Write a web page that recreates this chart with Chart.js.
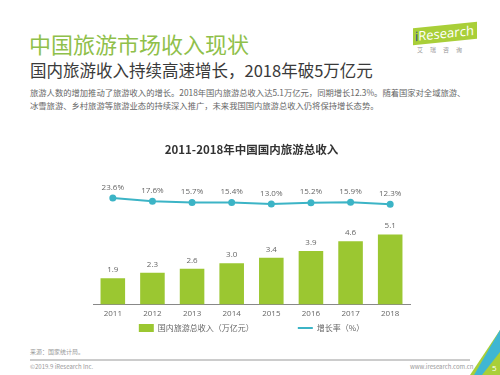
<!DOCTYPE html>
<html>
<head>
<meta charset="utf-8">
<script src="https://cdn.jsdelivr.net/npm/chart.js@4"></script>
<style>
  html, body { margin: 0; padding: 0; background: #fff; }
  body { width: 500px; height: 375px; position: relative; overflow: hidden;
         font-family: "Noto Sans CJK SC", "Noto Sans", sans-serif; }
  .abs { position: absolute; white-space: nowrap; }
  #title { left: 29px; top: 27px; font-size: 22px; color: #8fc04a; }
  #subtitle { left: 30px; top: 58px; font-size: 16.5px; color: #3a3a3a; }
  #body1, #body2 { left: 30px; font-size: 8.3px; color: #666; }
  #body1 { top: 86px; }
  #body2 { top: 99px; }
  #logo { left: 413px; top: 25px; width: 64px; }
  #logo .bar { background: #a9cf38; color: #fff; font-family: "Open Sans", sans-serif;
               font-size: 13px; padding: 0 3px 0 2px; line-height: 17px;
               transform: skewY(-6deg); }
  #logo .bar b { color: #2b4a8a; font-weight: normal; }
  #logo .cn { font-size: 6px; color: #999; letter-spacing: 7px; margin: 3px 0 0 4px; }
  #source { left: 30px; top: 347px; font-size: 6px; color: #999; }
  #rule { left: 30px; top: 359px; width: 440px; height: 1.5px; background: #ccc; }
  #copy { left: 30px; top: 362px; font-size: 6px; color: #999; }
  #site { left: 410px; top: 362px; font-size: 6px; color: #999; }
  #corner { left: 470px; top: 330px; width: 30px; height: 45px; }
  #chartBox { position: absolute; left: 85px; top: 140px; width: 333px; height: 202px; }
</style>
</head>
<body>
<div id="title" class="abs">中国旅游市场收入现状</div>
<div id="subtitle" class="abs">国内旅游收入持续高速增长，2018年破5万亿元</div>
<div id="body1" class="abs">旅游人数的增加推动了旅游收入的增长。2018年国内旅游总收入达5.1万亿元，同期增长12.3%。随着国家对全域旅游、</div>
<div id="body2" class="abs">冰雪旅游、乡村旅游等旅游业态的持续深入推广，未来我国国内旅游总收入仍将保持增长态势。</div>
<div id="logo" class="abs"><div class="bar"><b>i</b>Research</div><div class="cn">艾瑞咨询</div></div>
<div id="source" class="abs">来源：国家统计局。</div>
<div id="rule" class="abs"></div>
<div id="copy" class="abs">©2019.9 iResearch Inc.</div>
<div id="site" class="abs">www.iresearch.com.cn</div>
<svg id="corner" class="abs" viewBox="0 0 30 45">
  <polygon points="30,0 30,45 0,45" fill="#a9cf38"/>
  <polygon points="30,0 30,22 12,45 4,45" fill="#3fb6d3"/>
  <text x="22" y="41" font-size="8" fill="#fff" font-family="Open Sans">5</text>
</svg>
<div id="chartBox"><canvas id="revenue_chart"></canvas></div>
<script>
const years = ['2011', '2012', '2013', '2014', '2015', '2016', '2017', '2018'];
const revenue = [1.9, 2.3, 2.6, 3.0, 3.4, 3.9, 4.6, 5.1];       // 万亿元
const growth = [23.6, 17.6, 15.7, 15.4, 13.0, 15.2, 15.9, 12.3]; // %

const green = '#9bc731';
const teal = '#3cb4c6';

// value labels above bars and points
const valueLabels = {
    id: 'valueLabels',
    afterDatasetsDraw(chart) {
        const ctx = chart.ctx;
        ctx.save();
        ctx.fillStyle = '#666';
        ctx.font = '8px "Open Sans", sans-serif';
        ctx.textAlign = 'center';
        ctx.textBaseline = 'middle';
        chart.getDatasetMeta(0).data.forEach((bar, i) => {
            ctx.fillText(revenue[i].toFixed(1), bar.x, bar.y - 8.5);
        });
        chart.getDatasetMeta(1).data.forEach((pt, i) => {
            ctx.fillText(growth[i].toFixed(1) + '%', pt.x, pt.y - 10.5);
        });
        ctx.restore();
    }
};

const ctx = document.getElementById('revenue_chart').getContext('2d');

new Chart(ctx, {
    data: {
        labels: years,
        datasets: [{
            type: 'bar',
            label: '国内旅游总收入（万亿元）',
            data: revenue,
            backgroundColor: green,
            yAxisID: 'y',
            categoryPercentage: 1,
            barPercentage: 0.62
        }, {
            type: 'line',
            label: '增长率（%）',
            data: growth,
            borderColor: teal,
            backgroundColor: teal,
            borderWidth: 2,
            pointRadius: 2.5,
            pointBackgroundColor: teal,
            tension: 0,
            yAxisID: 'y1'
        }]
    },
    options: {
        responsive: true,
        maintainAspectRatio: false,
        animation: false,
        layout: { padding: { left: 8, right: 8, top: 0, bottom: 0 } },
        scales: {
            x: {
                grid: { display: false, drawTicks: false },
                border: { color: '#888', width: 1 },
                ticks: { color: '#666', font: { size: 8, family: '"Open Sans", sans-serif' }, padding: 5 }
            },
            y: {
                display: false,
                min: 0,
                max: 10.18
            },
            y1: {
                display: false,
                min: -170.9,
                max: 84.5
            }
        },
        plugins: {
            title: {
                display: true,
                text: '2011-2018年中国国内旅游总收入',
                color: '#333',
                font: { size: 11.5, weight: 'bold', family: '"Noto Sans CJK SC", sans-serif' },
                padding: { top: 3, bottom: 8 }
            },
            legend: {
                position: 'bottom',
                labels: {
                    color: '#666',
                    font: { size: 8, family: '"Noto Sans CJK SC", sans-serif' },
                    usePointStyle: true,
                    pointStyleWidth: 15,
                    boxHeight: 8,
                    padding: 0,
                    generateLabels: chart => Chart.defaults.plugins.legend.labels.generateLabels(chart).map(l => {
                        const isBar = l.datasetIndex === 0;
                        l.pointStyle = isBar ? 'rect' : 'line';
                        l.lineWidth = isBar ? 0 : 2;
                        // extra gap between the two legend entries
                        if (isBar) l.text = l.text + '\u3000\u3000\u3000\u3000\u3000\u3000';
                        return l;
                    })
                }
            },
            tooltip: { enabled: false }
        }
    },
    plugins: [valueLabels]
});
</script>
</body>
</html>
